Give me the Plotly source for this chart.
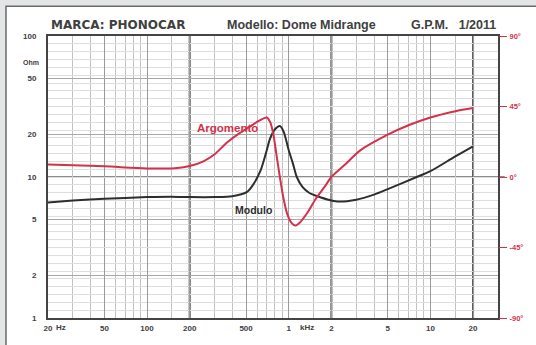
import plotly.graph_objects as go

# Modulo (impedance, ohm) vs frequency
freq_mod = [20, 30, 50, 100, 150, 200, 300, 400, 505, 560, 630, 700, 735, 800, 866,
            920, 1000, 1070, 1140, 1250, 1400, 1600, 1900, 2200, 3000, 4000, 5000,
            8000, 10000, 15000, 20000]
modulo = [6.6, 6.8, 7.0, 7.2, 7.25, 7.2, 7.2, 7.3, 7.8, 8.8, 11.0, 15.5, 18.5, 21.8, 23.0,
          21.0, 15.5, 12.5, 10.0, 8.5, 7.7, 7.3, 6.9, 6.7, 6.9, 7.5, 8.2,
          10.0, 11.0, 14.0, 16.5]

# Argomento (phase, degrees) vs frequency
freq_ph = [20, 30, 50, 100, 150, 200, 250, 300, 367, 450, 530, 620, 700, 740, 780, 820,
           866, 920, 980, 1050, 1110, 1200, 1350, 1550, 1800, 2000, 2500, 3200, 5000,
           7000, 10000, 15000, 20000]
argomento = [8, 7.5, 6.8, 5.5, 5.5, 7, 10, 14.5, 22, 28, 32, 36, 38, 35, 27, 14,
             0, -14, -24, -29.5, -31, -29, -23, -14, -6, 0, 8, 17, 27,
             33, 38, 42, 44]

x_major = [20, 50, 100, 200, 500, 1000, 2000, 5000, 10000, 20000]
x_major_text = ["20", "50", "100", "200", "500", "1", "2", "5", "10", "20"]
x_minor = [30, 40, 60, 70, 80, 90, 150, 300, 400, 600, 700, 800, 900, 1500,
           3000, 4000, 6000, 7000, 8000, 9000, 15000]
x_heavy = [200, 2000, 20000]
y_ticks = [1, 2, 5, 10, 20, 50, 100]
ph_ticks = [-90, -45, 0, 45, 90]
ph_text = ["-90°", "-45°", "0°", "45°", "90°"]

RED = "#d4314a"
DARK = "#2e2e2e"
FONT = "Liberation Sans"

# plot area in pixels: x 48..498, y 36..320
W, H = 536, 345
L, R, T, B = 48, 38, 36, 25
pw, ph_ = W - L - R, H - T - B


def px(x):
    return (x - L) / pw


def py(y):
    return (H - B - y) / ph_


fig = go.Figure()
fig.add_trace(go.Scatter(x=freq_mod, y=modulo, mode="lines", name="Modulo",
                         line=dict(color=DARK, width=2, shape="spline", smoothing=0.8)))
fig.add_trace(go.Scatter(x=freq_ph, y=argomento, mode="lines", name="Argomento", yaxis="y2",
                         line=dict(color=RED, width=2, shape="spline", smoothing=0.8)))

shapes = [
    # white card on the grey page, with its dark top/left edge
    dict(type="rect", xref="paper", yref="paper", x0=px(6), x1=px(W + 5), y0=py(H + 5), y1=py(6),
         fillcolor="white", line=dict(color="#6a6a6a", width=1.5), layer="below"),
    # 10 ohm / 0 deg reference
    dict(type="line", xref="paper", yref="y2", x0=0, x1=1.015, y0=0, y1=0,
         line=dict(color="#666", width=1.6), layer="below"),
]
for f in x_heavy:
    shapes.append(dict(type="line", xref="x", yref="paper", x0=f, x1=f, y0=0, y1=1,
                       line=dict(color="#555", width=2), layer="below"))

header_font = dict(family=FONT, size=12.5, color="#404040", weight="bold")
annotations = [
    dict(text="MARCA: PHONOCAR", x=px(49), y=py(34), xanchor="left", yanchor="bottom",
         font=dict(header_font, family="DejaVu Sans", size=12)),
    dict(text="Modello: Dome Midrange", x=px(301), y=py(34), xanchor="center", yanchor="bottom",
         font=header_font),
    dict(text="G.P.M.   1/2011", x=px(498), y=py(34), xanchor="right", yanchor="bottom",
         font=header_font),
]
for a in annotations:
    a.update(xref="paper", yref="paper", showarrow=False)

annotations += [
    dict(text="Ohm", xref="paper", yref="paper", x=px(41), y=py(57), xanchor="right",
         showarrow=False, font=dict(family=FONT, size=7, color="#404040", weight="bold")),
    dict(text="Hz", xref="paper", yref="paper", x=px(54), y=py(330), xanchor="left",
         yanchor="middle", showarrow=False,
         font=dict(family=FONT, size=8, color="#404040", weight="bold")),
    dict(text="kHz", xref="paper", yref="paper", x=px(298), y=py(330), xanchor="left",
         yanchor="middle", showarrow=False,
         font=dict(family=FONT, size=8, color="#404040", weight="bold")),
    dict(text="Argomento", xref="paper", yref="paper", x=px(195), y=py(121),
         showarrow=False, font=dict(family=FONT, size=11.5, color=RED, weight="bold")),
    dict(text="Modulo", xref="paper", yref="paper", x=px(253), y=py(211),
         showarrow=False, font=dict(family=FONT, size=10.5, color=DARK, weight="bold")),
]

fig.update_layout(
    width=W, height=H,
    margin=dict(l=L, r=R, t=T, b=B),
    paper_bgcolor="#e4e5e7",
    plot_bgcolor="white",
    showlegend=False,
    shapes=shapes,
    annotations=annotations,
    font=dict(family=FONT, size=8, color="#404040", weight="bold"),
    xaxis=dict(
        type="log", range=[1.30103, 4.47712],
        tickvals=x_major, ticktext=x_major_text, ticks="", ticklen=0,
        showgrid=True, gridcolor="#9a9a9a", gridwidth=1.2,
        minor=dict(tickvals=x_minor, showgrid=True, gridcolor="#c2c2c2", gridwidth=1, ticks=""),
        showline=True, mirror=True, linecolor="#444", linewidth=2,
        zeroline=False, tickfont=dict(size=8), ticklabelstandoff=1,
    ),
    yaxis=dict(
        type="log", range=[0, 2],
        tickvals=y_ticks, ticktext=[str(v) for v in y_ticks], ticks="", ticklen=0,
        showgrid=True, gridcolor="#a8a8a8", gridwidth=1.1,
        showline=True, mirror=True, linecolor="#444", linewidth=2,
        zeroline=False, tickfont=dict(size=8), ticklabelstandoff=8,
    ),
    yaxis2=dict(
        overlaying="y", side="right", range=[-90, 90],
        tickvals=ph_ticks, ticktext=ph_text,
        ticks="outside", ticklen=8, tickcolor=RED, tickwidth=1.2,
        tickfont=dict(size=7.5, color=RED), ticklabelstandoff=1,
        showgrid=True, gridcolor="#dedede", gridwidth=1,
        minor=dict(dtick=5, showgrid=True, gridcolor="#dedede", gridwidth=1),
        zeroline=False, showline=False,
    ),
)

fig.write_html("out.html", config={"displayModeBar": False},
               post_script="document.body.style.margin='0';")
